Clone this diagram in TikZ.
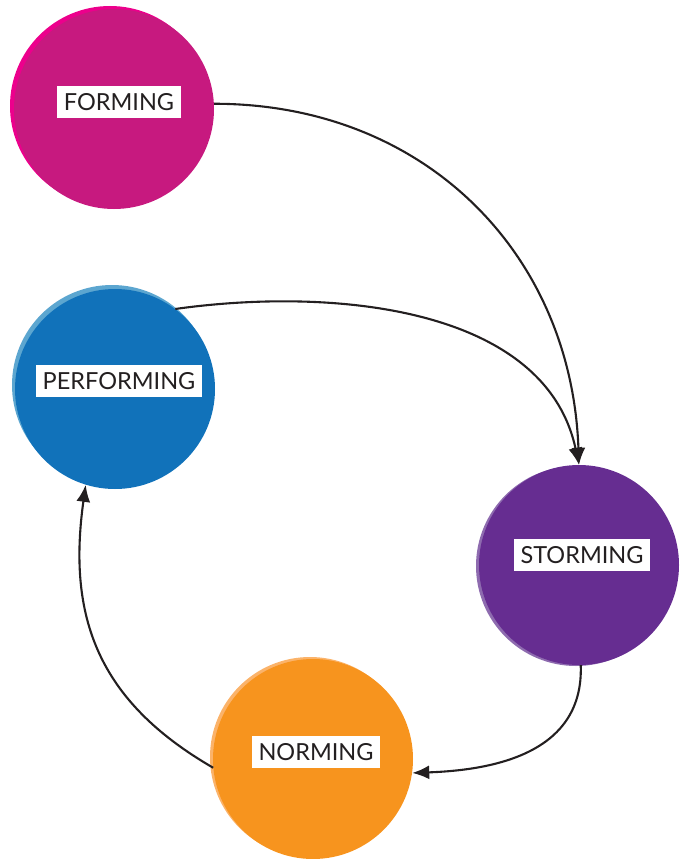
\documentclass[tikz,border=0pt]{standalone}
\usepackage{fontspec}
\setmainfont{Lato}
\usetikzlibrary{arrows.meta}
\definecolor{formcol}{HTML}{C7197F}
\definecolor{formlight}{HTML}{EC008C}
\definecolor{perfcol}{HTML}{1172BA}
\definecolor{perflight}{HTML}{5CA6D0}
\definecolor{stormcol}{HTML}{662D91}
\definecolor{stormlight}{HTML}{8E6BAF}
\definecolor{normcol}{HTML}{F7941E}
\definecolor{normlight}{HTML}{FBB36A}
\definecolor{inkcol}{HTML}{231F20}

\begin{document}
\begin{tikzpicture}[x=1pt,y=-1pt,
    stage/.style={circle, minimum size=200pt, inner sep=0pt},
    tag/.style={fill=white, text=inkcol, font=\fontsize{23.5}{23.5}\selectfont,
        text height=17pt, text depth=0pt, inner xsep=7pt, inner ysep=7.5pt},
    flow/.style={-{Latex[length=17pt,width=14pt]}, line width=2.1pt, draw=inkcol}]
    \useasboundingbox (0,0) rectangle (684,859);
    % lighter rims behind the discs
    \fill[formlight] (110,106) circle (100pt);
    \fill[perflight] (112,385) circle (100pt);
    \fill[stormlight] (576,566) circle (100pt);
    \fill[normlight] (310,757) circle (100pt);
    % discs
    \node[stage, fill=formcol] (forming) at (114,109) {};
    \node[stage, fill=perfcol] (performing) at (115,389) {};
    \node[stage, fill=stormcol] (storming) at (579,565) {};
    \node[stage, fill=normcol] (norming) at (313,759) {};
    % labels
    \node[tag] (formtag) at (119,102) {FORMING};
    \node[tag] (perftag) at (119,381) {PERFORMING};
    \node[tag] (stormtag) at (582,555) {STORMING};
    \node[tag] (normtag) at (316,752) {NORMING};
    % arrows
    \draw[flow] (forming.3) to[out=0, in=92, looseness=1.05] (storming.north);
    \draw[flow] (performing.53) to[out=8, in=102, looseness=0.95] (storming.north);
    \draw[flow] (storming.-89) to[out=-88, in=2, looseness=1.1] (norming.-8);
    \draw[flow] (norming.185) to[out=150, in=-98, looseness=1.1] (performing.253);
\end{tikzpicture}
\end{document}
